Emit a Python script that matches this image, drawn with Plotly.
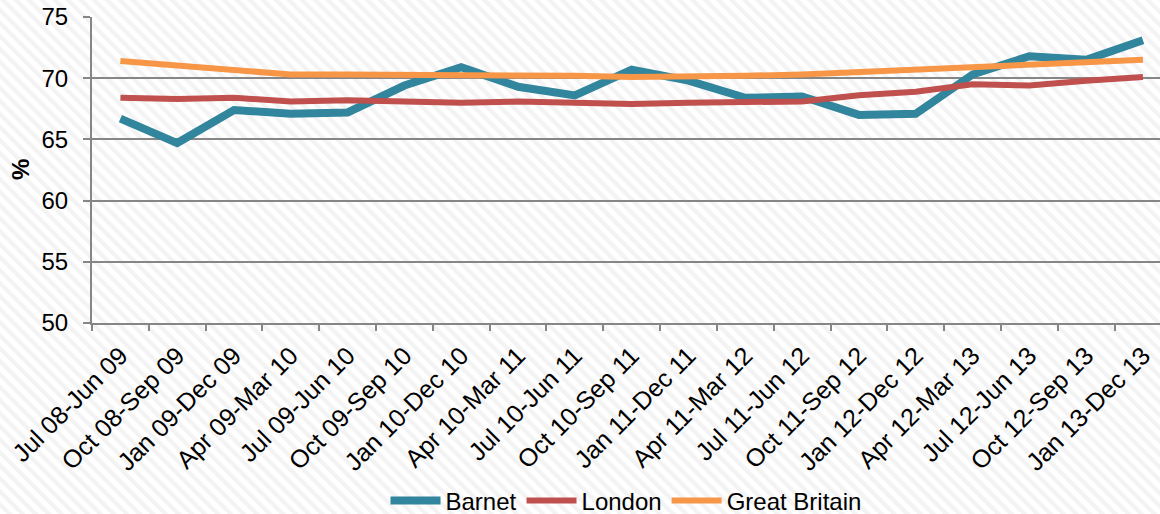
import base64
import plotly.graph_objects as go

categories = [
    "Jul 08-Jun 09", "Oct 08-Sep 09", "Jan 09-Dec 09", "Apr 09-Mar 10",
    "Jul 09-Jun 10", "Oct 09-Sep 10", "Jan 10-Dec 10", "Apr 10-Mar 11",
    "Jul 10-Jun 11", "Oct 10-Sep 11", "Jan 11-Dec 11", "Apr 11-Mar 12",
    "Jul 11-Jun 12", "Oct 11-Sep 12", "Jan 12-Dec 12", "Apr 12-Mar 13",
    "Jul 12-Jun 13", "Oct 12-Sep 13", "Jan 13-Dec 13",
]
barnet = [66.7, 64.7, 67.4, 67.1, 67.2, 69.4, 70.9, 69.3, 68.6, 70.7,
          69.8, 68.4, 68.5, 67.0, 67.1, 70.3, 71.8, 71.5, 73.1]
london = [68.4, 68.3, 68.4, 68.1, 68.2, 68.1, 68.0, 68.1, 68.0, 67.9,
          68.0, 68.0, 68.1, 68.6, 68.9, 69.5, 69.4, 69.8, 70.1]
great_britain = [71.4, 71.0, 70.7, 70.3, 70.3, 70.3, 70.3, 70.2, 70.2, 70.1,
                 70.1, 70.2, 70.3, 70.5, 70.7, 70.9, 71.1, 71.2, 71.5]
y_ticks = [50, 55, 60, 65, 70, 75]

FONT = "Liberation Sans, Arial, sans-serif"
W, H = 1160, 514
L, T, B = 92, 17, 191
PW, PH = W - L, H - T - B

fig = go.Figure()
fig.add_trace(go.Scatter(x=categories, y=barnet, name="Barnet", mode="lines",
                         line=dict(color="#31859C", width=8)))
fig.add_trace(go.Scatter(x=categories, y=london, name="London", mode="lines",
                         line=dict(color="#C0504D", width=6)))
fig.add_trace(go.Scatter(x=categories, y=great_britain, name="Great Britain", mode="lines",
                         line=dict(color="#F79646", width=6)))

# faint diagonal stripe background
svg = (
    f'<svg xmlns="http://www.w3.org/2000/svg" width="{W}" height="{H}">'
    '<defs><pattern id="p" patternUnits="userSpaceOnUse" width="9.2" height="9.2" '
    'patternTransform="rotate(-45)"><rect x="0" y="0" width="4.2" height="9.2" fill="#f3f3f3"/>'
    '</pattern></defs>'
    f'<rect width="{W}" height="{H}" fill="white"/>'
    f'<rect width="{W}" height="{H}" fill="url(#p)"/></svg>'
)
src = "data:image/svg+xml;base64," + base64.b64encode(svg.encode()).decode()
fig.add_layout_image(dict(
    source=src, xref="paper", yref="paper",
    x=-L / PW, y=(PH + T) / PH, sizex=W / PW, sizey=H / PH,
    xanchor="left", yanchor="top", sizing="stretch", layer="below",
))

fig.update_layout(
    width=W, height=H,
    margin=dict(l=L, r=0, t=T, b=B, autoexpand=False),
    paper_bgcolor="white",
    plot_bgcolor="rgba(0,0,0,0)",
    font=dict(family=FONT, color="#000000", size=24),
    showlegend=True,
    legend=dict(orientation="h", x=0.5, xanchor="center", y=(-178) / PH, yanchor="middle",
                font=dict(size=24, family=FONT), itemwidth=50,
                bgcolor="rgba(0,0,0,0)", traceorder="normal"),
    xaxis=dict(
        type="category", categoryorder="array", categoryarray=categories,
        range=[-0.5, 18.3], tickson="boundaries", ticks="outside", ticklen=6,
        tickcolor="#868686", tickwidth=1.5, showline=True, linecolor="#868686", linewidth=2,
        showgrid=False, tickangle=-45, tickfont=dict(size=25, family=FONT), automargin=False,
        ticklabelstandoff=6,
    ),
    yaxis=dict(
        range=[50, 75], tickvals=y_ticks, ticks="outside", ticklen=7,
        tickcolor="#868686", tickwidth=1.5, showline=True, linecolor="#868686", linewidth=2,
        showgrid=True, gridcolor="#868686", gridwidth=1.6, zeroline=False,
        tickfont=dict(size=24, family=FONT), ticklabelstandoff=10, automargin=False,
    ),
    annotations=[dict(
        text="<b>%</b>", xref="paper", yref="paper", x=(20 - L) / PW, y=0.5,
        xanchor="center", yanchor="middle", showarrow=False, textangle=-90,
        font=dict(size=24, family=FONT),
    )],
)

fig.write_html("out.html")
